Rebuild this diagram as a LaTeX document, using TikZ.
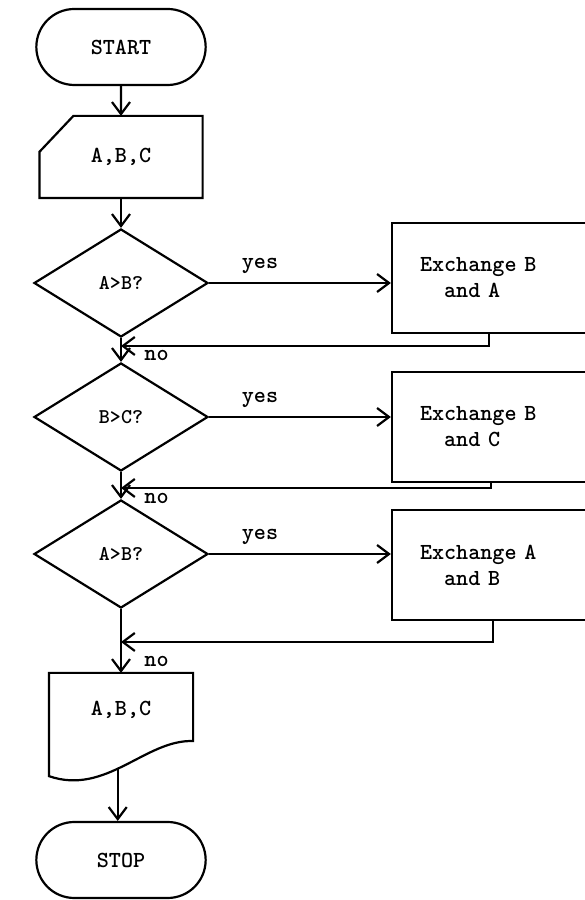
\documentclass[tikz,border=0pt]{standalone}
\usepackage{tikz}
\usetikzlibrary{calc}
\usetikzlibrary{arrows.meta}
\usetikzlibrary{shapes.geometric,shapes.misc}

\begin{document}
\begin{tikzpicture}[auto, x=1pt, y=1pt, >={Straight Barb[length=12pt,width=18pt]},
    line width=2.2pt,
    every node/.style={font=\fontsize{23}{26}\selectfont\ttfamily\bfseries},
    startstop/.style={
            draw,
            rounded rectangle,
            minimum height=76pt,
            minimum width=176pt
        },
        decision/.style={
            draw,
            diamond,
            inner sep=0pt,
            minimum width=174pt,
            minimum height=108pt,
            font=\fontsize{21}{24}\selectfont\ttfamily\bfseries
        },
        block/.style={
            draw,
            rectangle,
            align=left,
            text width=144pt,
            inner xsep=28pt,
            minimum height=110pt
        },
        inout/.style={rectangle}
]

    \useasboundingbox (0,0) rectangle (584,900);

    \node [startstop] (start) at (121,853) {START};
    \node [inout, below of=start, node distance=110pt,
            minimum width=161pt, minimum height=80pt] (read) {A,B,C};
    \draw ($(read.north west)+(34,0)$) -- (read.north east) -- (read.south east)
        -- (read.south west) -- ($(read.north west)+(0,-36)$) -- cycle;

    \node [decision, below of=read, node distance=126pt] (cmp1) {A>B?};
    \node [decision, below of=cmp1, node distance=134pt] (cmp2) {B>C?};
    \node [decision, below of=cmp2, node distance=137pt] (cmp3) {A>B?};

    \node [inout, below of=cmp3, node distance=156pt,
            minimum width=142pt, minimum height=72pt] (write) {A,B,C};
    \draw (write.north west) -- (write.north east) -- ($(write.south east)+(0,6)$)
        .. controls ($(write.south west)+(97,8)$) and ($(write.south west)+(57,-49)$) ..
        coordinate [pos=0.55] (wbot) ($(write.south west)+(0,-29)$) -- cycle;
    \node [startstop, below of=write, node distance=150pt] (stop) {STOP};

    % exchange boxes
    \node [block, right of=cmp1, node distance=371pt, yshift=5pt] (swap1) {Exchange B\\\hspace*{1.05em}and A};
    \node [block, right of=cmp2, node distance=371pt, yshift=-10pt] (swap2) {Exchange B\\\hspace*{1.05em}and C};
    \node [block, right of=cmp3, node distance=371pt, yshift=-11pt] (swap3) {Exchange A\\\hspace*{1.05em}and B};

    \draw [->] (start) -- (read);
    \draw [->] (read) -- (cmp1);
    \draw [->] (cmp1) -- node [pos=0.73, right=19pt] {no} (cmp2);
    \draw [->] (cmp2) -- node [pos=1, right=19pt] {no} (cmp3);
    \draw [->] (cmp3) -- node [pos=0.82, right=19pt] {no} (write);
    \draw [->] (wbot) -- (wbot |- stop.north);

    \draw [->] (cmp1.east) -- node [pos=0.28, above=5pt] {yes} (cmp1.east -| swap1.west);
    \draw [->] (cmp2.east) -- node [pos=0.28, above=5pt] {yes} (cmp2.east -| swap2.west);
    \draw [->] (cmp3.east) -- node [pos=0.28, above=5pt] {yes} (cmp3.east -| swap3.west);

    % way back
    \coordinate [below of=cmp1, node distance=63pt] (join1);
    \coordinate [below of=cmp2, node distance=71pt] (join2);
    \coordinate [below of=cmp3, node distance=88pt] (join3);
    \coordinate (back1) at ($(swap1.south west)+(98,0)$);
    \coordinate (back2) at ($(swap2.south west)+(100,0)$);
    \coordinate (back3) at ($(swap3.south west)+(102,0)$);
    \draw [->] (back1) |- (join1);
    \draw [->] (back2) |- (join2);
    \draw [->] (back3) |- (join3);
\end{tikzpicture}
\end{document}
